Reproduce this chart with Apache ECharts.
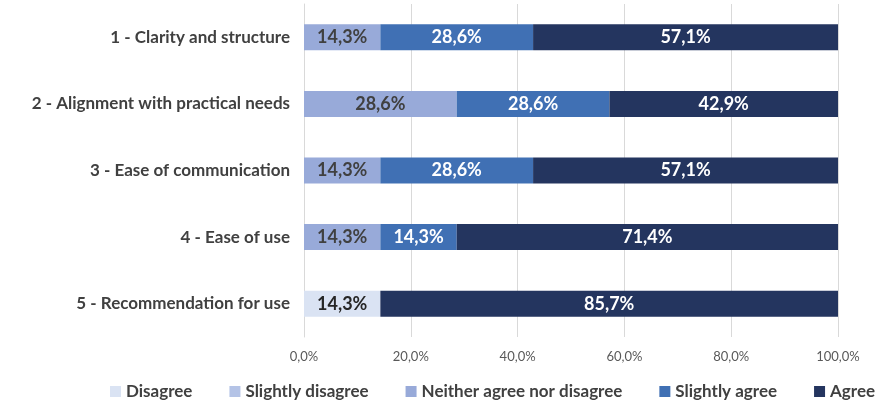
<!DOCTYPE html>
<html>
<head>
<meta charset="utf-8">
<script src="https://cdn.jsdelivr.net/npm/echarts@6/dist/echarts.min.js"></script>
<style>
  html, body { margin: 0; padding: 0; background: #fff; }
  #chart { width: 882px; height: 405px; }
</style>
</head>
<body>
<div id="chart"></div>
<script>
const categories = [
  "1 - Clarity and structure",
  "2 - Alignment with practical needs",
  "3 - Ease of communication",
  "4 - Ease of use",
  "5 - Recommendation for use"
];
const disagree = [0, 0, 0, 0, 14.3];
const slightlyDisagree = [0, 0, 0, 0, 0];
const neither = [14.3, 28.6, 14.3, 14.3, 0];
const slightlyAgree = [28.6, 28.6, 28.6, 14.3, 0];
const agree = [57.1, 42.9, 57.1, 71.4, 85.7];

const fmt = v => v.toFixed(1).replace(".", ",") + "%";
const font = "Lato, 'Open Sans', sans-serif";

function makeSeries(name, data, color, labelColor) {
  return {
    name: name,
    type: "bar",
    stack: "total",
    data: data,
    barWidth: 26,
    itemStyle: { color: color },
    label: {
      show: true,
      position: "inside",
      fontFamily: font,
      fontWeight: "bold",
      fontSize: 18,
      color: labelColor,
      formatter: p => (p.value > 0 ? fmt(p.value) : "")
    }
  };
}

const chart = echarts.init(document.getElementById("chart"));
chart.setOption({
  animation: false,
  grid: { left: 304, right: 44, top: 4, bottom: 68 },
  legend: {
    bottom: 0,
    left: 105,
    width: 820,
    itemWidth: 11,
    itemHeight: 11,
    itemGap: 37,
    icon: "rect",
    textStyle: { fontFamily: font, fontWeight: "bold", fontSize: 17, color: "#404040" }
  },
  xAxis: {
    type: "value",
    min: 0,
    max: 100,
    interval: 20,
    axisLabel: {
      formatter: v => v.toFixed(1).replace(".", ",") + "%",
      fontFamily: font,
      fontSize: 13,
      color: "#595959",
      margin: 13
    },
    splitLine: { lineStyle: { color: "#d9d9d9" } },
    axisLine: { show: false },
    axisTick: { show: false }
  },
  yAxis: {
    type: "category",
    data: categories,
    inverse: true,
    axisLine: { show: true, lineStyle: { color: "#d9d9d9" } },
    axisTick: { show: false },
    axisLabel: {
      fontFamily: font,
      fontWeight: "bold",
      fontSize: 17,
      color: "#404040",
      margin: 14
    }
  },
  series: [
    makeSeries("Disagree", disagree, "#dae3f3", "#262626"),
    makeSeries("Slightly disagree", slightlyDisagree, "#b4c3e6", "#404040"),
    makeSeries("Neither agree nor disagree", neither, "#98aad9", "#404040"),
    makeSeries("Slightly agree", slightlyAgree, "#4070b4", "#ffffff"),
    makeSeries("Agree", agree, "#24355f", "#ffffff")
  ]
});
</script>
</body>
</html>
